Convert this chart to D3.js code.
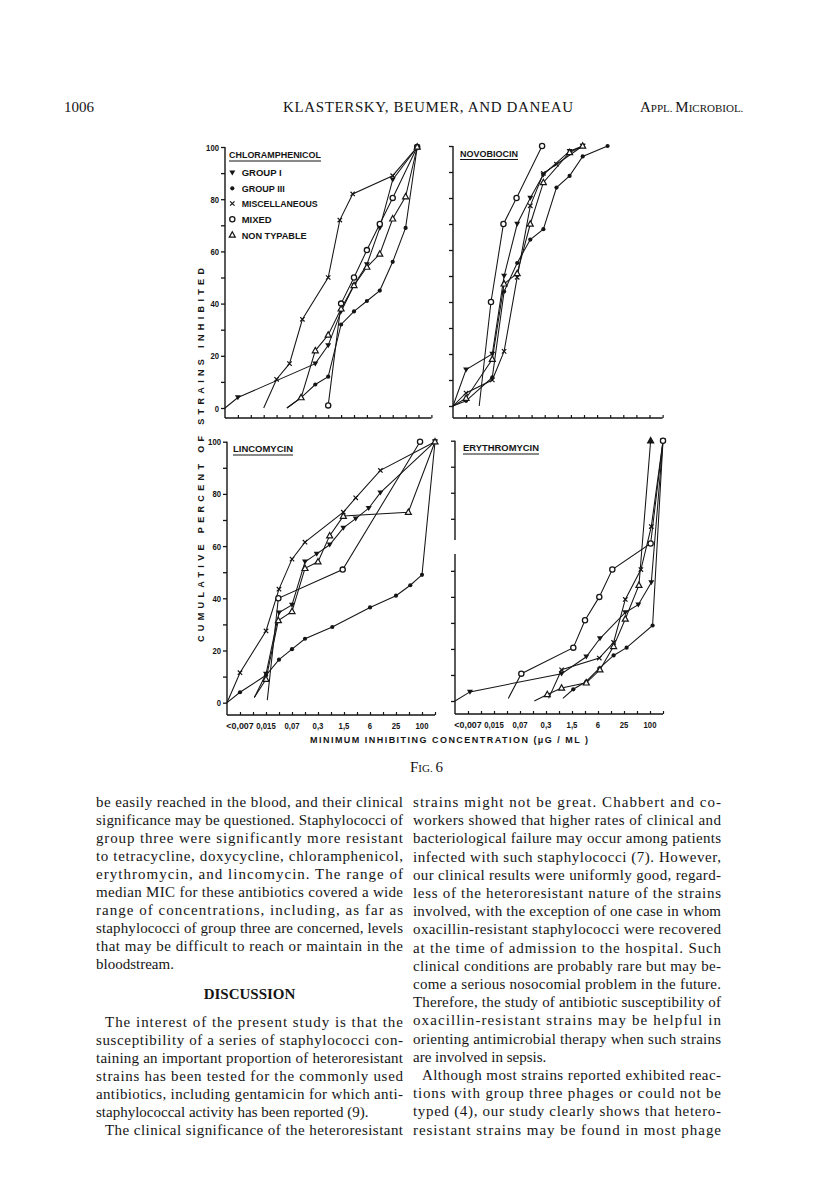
<!DOCTYPE html>
<html><head><meta charset="utf-8">
<script src="https://cdn.jsdelivr.net/npm/d3@7"></script>
<style>body{margin:0;background:#fff;}svg{display:block;}</style>
</head><body>
<svg id="page" width="816" height="1193"></svg>
<script>
// ---------- data ----------
const xTickLabels = ["<0,007","0,015","0,07","0,3","1,5","6","25","100"];
const xTickLabelIdx = [1,3,5,7,9,11,13,15];
const yTickValues = [0,10,20,30,40,50,60,70,80,90,100];
const yTickLabels = [0,20,40,60,80,100];
const legendLabels = ["GROUP I","GROUP III","MISCELLANEOUS","MIXED","NON TYPABLE"];
const seriesKinds = ["g1","g3","misc","mixed","nt"];
const panelTitles = ["CHLORAMPHENICOL","NOVOBIOCIN","LINCOMYCIN","ERYTHROMYCIN"];

// [dilution index, cumulative percent, (0 = no marker, 2 = filled marker)]
const chlGroupI   = [[0,0,0],[1,4],[7,17],[8,24],[9,37],[10,47],[11,55],[12,69],[13,87.5],[14.9,100]];
const chlGroupIII = [[4.8,0,0],[5.9,4],[7,9],[8,12],[9,32],[10,37],[11,41],[12,45],[13,56],[14,69],[14.9,100]];
const chlMisc     = [[3,0,0],[4,11],[5,17],[6,34],[8,50],[8.9,72],[9.9,82],[13,89],[14.9,100]];
const chlMixed    = [[8,1],[9,40],[10,50],[11,60.5],[12,70.5],[13,80.5],[14.9,100]];
const chlNonTyp   = [[4.8,0,0],[5.9,4],[7,22],[8,28],[9,38],[10,47],[11,54],[12,59],[13,72.5],[14,81],[14.9,100]];

const novGroupI   = [[0,0,0],[1,14],[3,20],[3.9,50],[4.9,70],[5.9,80],[6.9,89],[8.9,98],[9.9,100]];
const novGroupIII = [[0,0,0],[1,2],[3,11],[3.9,44],[4.9,55],[5.9,64],[6.9,68],[7.9,84],[8.9,88.5],[9.9,96],[11.8,100]];
const novMisc     = [[0,0,0],[1,5],[3,10],[3.9,21],[4.9,49.5],[5.9,77],[6.9,89.5],[7.9,93],[9.9,100]];
const novMixed    = [[2,0,0],[2.9,40],[3.85,70],[4.85,80],[6.8,100]];
const novNonTyp   = [[0,0,0],[1,3],[3,18],[3.9,47],[4.9,51],[5.9,70],[6.9,86],[8.9,97.5],[9.9,100]];

const linGroupI   = [[2.1,2,0],[3,11],[4,34.5],[5,37.5],[6,54],[6.9,57],[7.9,60.5],[8.95,67],[9.9,70.5],[10.9,74.5],[11.8,80.5],[16,100]];
const linGroupIII = [[0,0,0],[1,4],[3,10.5],[4,16.5],[5,20.5],[6,24.5],[8.1,29],[11,36.5],[13,41],[14.1,45],[15,49],[16,100]];
const linMisc     = [[0,0,0],[1,11.5],[3,27.5],[4,43.5],[5,55],[6,61.5],[8.95,73],[9.9,78.5],[11.8,89],[16,100]];
const linMixed    = [[3.1,1,0],[3.95,40],[8.9,51],[14.85,100]];
const linNonTyp   = [[2.1,2,0],[3,9],[3.95,31.5],[5,35],[6,51.5],[7,54],[7.9,64],[8.95,71.5],[13.95,73],[16,100]];

const eryGroupI   = [[0,0,0],[1.15,3.5],[8.2,10.5],[10.1,17],[11.15,24],[13.1,34],[14.1,37],[15.1,45.5],[16,100]];
const eryGroupIII = [[8.3,1,0],[9.1,4.5],[10.1,7.5],[11.1,12.5],[12.2,17.5],[13.2,20.5],[15.2,29],[16,100]];
const eryMisc     = [[7.2,1,0],[8.2,12],[11.1,16.5],[12.2,22.5],[13.1,39],[14.3,50.5],[15.1,67],[16,100]];
const eryMixed    = [[4.1,1,0],[5.1,10.5],[9.1,20.5],[10,31],[11.1,40],[12.1,50.5],[15.05,60.5],[16,100]];
const eryNonTyp   = [[6.1,0,0],[7.1,2.5],[8.2,5],[10.1,7],[11.15,12],[12.2,21],[13.1,31.5],[14.15,44.5],[15.05,100,2]];

const headerTexts = ["1006","KLASTERSKY, BEUMER, AND DANEAU"];
const leftColumn = [
 ["be easily reached in the blood, and their clinical",1,0],
 ["significance may be questioned. Staphylococci of",1,0],
 ["group three were significantly more resistant",1,0],
 ["to tetracycline, doxycycline, chloramphenicol,",1,0],
 ["erythromycin, and lincomycin. The range of",1,0],
 ["median MIC for these antibiotics covered a wide",1,0],
 ["range of concentrations, including, as far as",1,0],
 ["staphylococci of group three are concerned, levels",1,0],
 ["that may be difficult to reach or maintain in the",1,0],
 ["bloodstream.",0,0]
];
const leftColumn2 = [
 ["The interest of the present study is that the",1,1],
 ["susceptibility of a series of staphylococci con-",1,0],
 ["taining an important proportion of heteroresistant",1,0],
 ["strains has been tested for the commonly used",1,0],
 ["antibiotics, including gentamicin for which anti-",1,0],
 ["staphylococcal activity has been reported (9).",0,0],
 ["The clinical significance of the heteroresistant",1,1]
];
const rightColumn = [
 ["strains might not be great. Chabbert and co-",1,0],
 ["workers showed that higher rates of clinical and",1,0],
 ["bacteriological failure may occur among patients",1,0],
 ["infected with such staphylococci (7). However,",1,0],
 ["our clinical results were uniformly good, regard-",1,0],
 ["less of the heteroresistant nature of the strains",1,0],
 ["involved, with the exception of one case in whom",1,0],
 ["oxacillin-resistant staphylococci were recovered",1,0],
 ["at the time of admission to the hospital. Such",1,0],
 ["clinical conditions are probably rare but may be-",1,0],
 ["come a serious nosocomial problem in the future.",1,0],
 ["Therefore, the study of antibiotic susceptibility of",1,0],
 ["oxacillin-resistant strains may be helpful in",1,0],
 ["orienting antimicrobial therapy when such strains",1,0],
 ["are involved in sepsis.",0,0],
 ["Although most strains reported exhibited reac-",1,1],
 ["tions with group three phages or could not be",1,0],
 ["typed (4), our study clearly shows that hetero-",1,0],
 ["resistant strains may be found in most phage",1,0]
];

// ---------- drawing ----------
const svg = d3.select("#page");
const serif = "'Liberation Serif','DejaVu Serif',serif";
const sans = "'Liberation Sans','DejaVu Sans',sans-serif";
const ink = "#151515";
svg.append("rect").attr("width",816).attr("height",1193).attr("fill","#fff");

// condensed lettering widths for the numeric labels
const labelWidth = s => Array.from(s).reduce((a,c)=> a + (c==="<" ? 8 : c==="," ? 2.2 : 4.3), 0);

const panels = [
 {title:panelTitles[0], data:[chlGroupI,chlGroupIII,chlMisc,chlMixed,chlNonTyp], x0:225, step:12.9, y0:408, y100:147, yTop:147, axisY:418, yLabels:true, xLabels:false, tx:229, ty:158, tw:92, legend:true},
 {title:panelTitles[1], data:[novGroupI,novGroupIII,novMisc,novMixed,novNonTyp], x0:453, step:13.1, y0:406, y100:146, yTop:146, axisY:418, yLabels:false, xLabels:false, tx:460, ty:156.5, tw:58},
 {title:panelTitles[2], data:[linGroupI,linGroupIII,linMisc,linMixed,linNonTyp], x0:227, step:13, y0:702.7, y100:441.7, yTop:441.7, axisY:715, yLabels:true, xLabels:true, tx:233, ty:452, tw:60},
 {title:panelTitles[3], data:[eryGroupI,eryGroupIII,eryMisc,eryMixed,eryNonTyp], x0:455, step:13, y0:701, y100:440.7, yTop:440.7, axisY:714, yLabels:false, xLabels:true, tx:463, ty:451, tw:76, brk:[540,554]}
];

function marker(g, kind, cx, cy, filled){
  if(kind==="g1"){
    g.append("path").attr("d",`M${cx-3},${cy-2.2}L${cx+3},${cy-2.2}L${cx},${cy+2.8}Z`).attr("fill",ink);
  } else if(kind==="g3"){
    g.append("circle").attr("cx",cx).attr("cy",cy).attr("r",2.1).attr("fill",ink);
  } else if(kind==="misc"){
    g.append("path").attr("d",`M${cx-2.2},${cy-2.2}L${cx+2.2},${cy+2.2}M${cx+2.2},${cy-2.2}L${cx-2.2},${cy+2.2}`).attr("stroke",ink).attr("stroke-width",1.2);
  } else if(kind==="mixed"){
    g.append("circle").attr("cx",cx).attr("cy",cy).attr("r",2.6).attr("fill","#fff").attr("stroke",ink).attr("stroke-width",1.3);
  } else {
    g.append("path").attr("d",`M${cx},${cy-3.2}L${cx+3},${cy+2.2}L${cx-3},${cy+2.2}Z`).attr("fill",filled?ink:"#fff").attr("stroke",ink).attr("stroke-width",1.2);
  }
}

panels.forEach(p=>{
  const g = svg.append("g");
  const x = d3.scaleLinear().domain([0,16]).range([p.x0, p.x0+16*p.step]);
  const y = d3.scaleLinear().domain([0,100]).range([p.y0, p.y100]);
  // y axis line
  const segs = p.brk ? [[p.yTop,p.brk[0]],[p.brk[1],p.axisY]] : [[p.yTop,p.axisY]];
  segs.forEach(s=>g.append("line").attr("x1",p.x0).attr("x2",p.x0).attr("y1",s[0]).attr("y2",s[1]).attr("stroke",ink).attr("stroke-width",1.4));
  // y ticks
  const ya = d3.axisLeft(y).tickValues(yTickValues).tickSize(4).tickPadding(2)
      .tickFormat(v => (p.yLabels && yTickLabels.includes(v)) ? String(v) : "");
  const yg = g.append("g").attr("transform",`translate(${p.x0},0)`).call(ya);
  yg.select(".domain").remove();
  yg.selectAll(".tick line").attr("stroke",ink).attr("stroke-width",1.3);
  yg.selectAll(".tick text").attr("font-family",sans).attr("font-weight","bold").attr("font-size",9.5).attr("fill",ink)
    .each(function(){ const s=this.textContent; if(s) d3.select(this).attr("textLength",labelWidth(s)).attr("lengthAdjust","spacingAndGlyphs"); });
  if(p.brk){ yg.selectAll(".tick").filter(v=>{const yy=y(v);return yy>p.brk[0]&&yy<p.brk[1];}).remove(); }
  // x axis
  g.append("line").attr("x1",p.x0).attr("x2",x(16)).attr("y1",p.axisY).attr("y2",p.axisY).attr("stroke",ink).attr("stroke-width",1.4);
  const xa = d3.axisTop(x).tickValues(d3.range(1,17)).tickSize(3).tickFormat("");
  const xg = g.append("g").attr("transform",`translate(0,${p.axisY})`).call(xa);
  xg.select(".domain").remove();
  xg.selectAll(".tick line").attr("stroke",ink).attr("stroke-width",1.2);
  if(p.xLabels){
    g.selectAll(".xl").data(xTickLabels).enter().append("text")
      .attr("x",(d,i)=>x(xTickLabelIdx[i])).attr("y",p.axisY+13.5)
      .attr("text-anchor","middle").attr("font-family",sans).attr("font-weight","bold")
      .attr("font-size",9.5).attr("fill",ink)
      .attr("textLength",d=>labelWidth(d)).attr("lengthAdjust","spacingAndGlyphs").text(d=>d);
  }
  // title
  g.append("text").attr("x",p.tx).attr("y",p.ty).attr("font-family",sans).attr("font-weight","bold")
    .attr("font-size",9).attr("textLength",p.tw).attr("lengthAdjust","spacingAndGlyphs").attr("fill",ink).text(p.title);
  g.append("line").attr("x1",p.tx).attr("x2",p.tx+p.tw).attr("y1",p.ty+3).attr("y2",p.ty+3).attr("stroke",ink).attr("stroke-width",1.1);
  // series
  const line = d3.line().x(d=>x(d[0])).y(d=>y(d[1]));
  p.data.forEach(s=>{
    g.append("path").attr("d",line(s)).attr("fill","none").attr("stroke",ink).attr("stroke-width",1.05);
  });
  p.data.forEach((s,i)=>{
    s.forEach(d=>{ if(d[2]!==0) marker(g, seriesKinds[i], x(d[0]), y(d[1]), d[2]===2); });
  });
  // legend
  if(p.legend){
    const ly = [172.7,188.3,203.5,219.3,235];
    const lw = [40,43,76,30,65];
    legendLabels.forEach((t,i)=>{
      marker(g, seriesKinds[i], 232.3, ly[i]);
      g.append("text").attr("x",241.7).attr("y",ly[i]+3.5).attr("font-family",sans).attr("font-weight","bold")
        .attr("font-size",9).attr("textLength",lw[i]).attr("lengthAdjust","spacingAndGlyphs").attr("fill",ink).text(t);
    });
  }
});

// axis titles
svg.append("text").attr("transform","translate(204,455) rotate(-90)").attr("text-anchor","middle")
  .attr("font-family",sans).attr("font-weight","bold").attr("font-size",9).attr("fill",ink)
  .attr("textLength",374).attr("lengthAdjust","spacing").text("CUMULATIVE  PERCENT  OF  STRAINS  INHIBITED");
svg.append("text").attr("x",310).attr("y",743)
  .attr("font-family",sans).attr("font-weight","bold").attr("font-size",9).attr("fill",ink)
  .attr("textLength",278).attr("lengthAdjust","spacing").text("MINIMUM  INHIBITING  CONCENTRATION  (\u03BCG / ML )");

// header
svg.append("text").attr("x",64).attr("y",112).attr("font-family",serif).attr("font-size",15).attr("fill",ink).text(headerTexts[0]);
svg.append("text").attr("x",283).attr("y",112).attr("font-family",serif).attr("font-size",15).attr("fill",ink)
  .attr("textLength",290).attr("lengthAdjust","spacing").text(headerTexts[1]);
const hr = svg.append("text").attr("x",640).attr("y",112).attr("font-family",serif).attr("fill",ink);
hr.append("tspan").attr("font-size",15).text("A");
hr.append("tspan").attr("font-size",11).text("PPL. ");
hr.append("tspan").attr("font-size",15).text("M");
hr.append("tspan").attr("font-size",11).text("ICROBIOL.");

// fig caption
const fc = svg.append("text").attr("x",410).attr("y",772).attr("font-family",serif).attr("fill",ink);
fc.append("tspan").attr("font-size",15).text("F");
fc.append("tspan").attr("font-size",11).text("IG. ");
fc.append("tspan").attr("font-size",15).text("6");

// body text
function column(lines, x0, x1, yStart, lh){
  lines.forEach((l,i)=>{
    const ind = l[2] ? 9 : 0;
    const t = svg.append("text").attr("x",x0+ind).attr("y",yStart+i*lh)
      .attr("font-family",serif).attr("font-size",15).attr("fill",ink).text(l[0]);
    if(l[1]) t.attr("textLength",x1-x0-ind).attr("lengthAdjust","spacing");
  });
}
column(leftColumn, 96, 403, 807, 18);
svg.append("text").attr("x",249.5).attr("y",999).attr("text-anchor","middle").attr("font-family",serif)
  .attr("font-weight","bold").attr("font-size",15).attr("fill",ink).text("DISCUSSION");
column(leftColumn2, 96, 403, 1027, 18);
column(rightColumn, 413, 721, 807, 18.2);
</script>
</body></html>
